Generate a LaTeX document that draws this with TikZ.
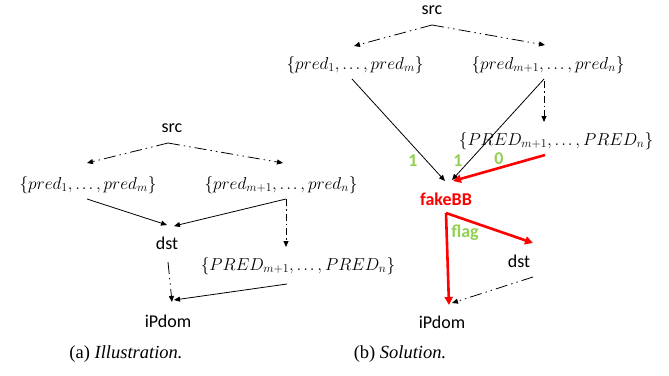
\documentclass[tikz,border=0pt]{standalone}
\usepackage{fontspec}
\setsansfont{Carlito}
\setmainfont{Liberation Serif}
\usetikzlibrary{arrows.meta,calc}
\definecolor{lgreen}{HTML}{92D050}
\newcommand{\tdots}{\mathinner{.\mkern2mu.\mkern2mu.}}
\begin{document}
\begin{tikzpicture}[x=1pt,y=-1pt,
  lbl/.style={font=\sffamily\fontsize{18}{20}\selectfont, inner sep=0pt},
  setn/.style={font=\fontsize{18.5}{22}\selectfont, inner sep=0pt},
  bign/.style={font=\fontsize{17.5}{20}\selectfont, inner sep=0pt},
  num/.style={font=\sffamily\bfseries\fontsize{18}{20}\selectfont, text=lgreen, inner sep=0pt},
  capt/.style={font=\fontsize{18.5}{22}\selectfont, inner sep=0pt},
  conn/.style={line width=0.8pt, -{Triangle[length=6pt,width=5pt]}},
  hot/.style={line width=2.6pt, red, -{Triangle[length=8pt,width=8pt]}},
  ddd/.style={dash pattern=on 12pt off 4pt on 1.5pt off 4pt on 1.5pt off 4pt},
  dd/.style={dash pattern=on 7pt off 3pt on 1.5pt off 3pt}]
\useasboundingbox (0,0) rectangle (669,375);
% ---------- left panel ----------
\node[lbl] (srcA) at (172,128) {src};
\node[setn] (pa1) at (88,185) {$\{pred_1,\tdots,pred_m\}$};
\node[setn] (pa2) at (281,185) {$\{pred_{m+1},\tdots,pred_n\}$};
\node[lbl] (dstA) at (167,243) {dst};
\node[bign] (PA) at (298,266) {$\{PRED_{m+1},\tdots,PRED_n\}$};
\node[lbl] (ipA) at (168,321) {iPdom};
\draw[conn,ddd] ($(srcA)+(-4,15)$) -- ($(pa1)+(-1,-22)$);
\draw[conn,ddd] ($(srcA)+(-4,15)$) -- ($(pa2)+(2,-22)$);
\draw[conn] ($(pa1)+(-1,14)$) -- ($(dstA)+(0,-18)$);
\draw[conn] ($(pa2)+(5,14)$) -- ($(dstA)+(7,-17)$);
\draw[conn,dd] ($(pa2)+(5,14)$) -- ($(PA)+(-12,-19)$);
\draw[conn,ddd] ($(dstA)+(1,19)$) -- ($(ipA)+(4,-19)$);
\draw[conn] ($(PA)+(-11,18)$) -- ($(ipA)+(6,-21)$);
% ---------- right panel ----------
\node[lbl] (srcB) at (432,10) {src};
\node[setn] (pb1) at (355,65) {$\{pred_1,\tdots,pred_m\}$};
\node[setn] (pb2) at (548,65) {$\{pred_{m+1},\tdots,pred_n\}$};
\node[bign] (PB) at (556,141) {$\{PRED_{m+1},\tdots,PRED_n\}$};
\node[lbl, font=\sffamily\bfseries\fontsize{18}{20}\selectfont, text=red] (fake) at (446,199) {fakeBB};
\node[lbl] (dstB) at (519,261) {dst};
\node[lbl] (ipB) at (442,322) {iPdom};
\draw[conn,ddd] ($(srcB)+(0,15)$) -- ($(pb1)+(-1,-19)$);
\draw[conn,ddd] ($(srcB)+(0,15)$) -- ($(pb2)+(-3,-20)$);
\draw[conn] ($(pb1)+(-3,14)$) -- ($(fake)+(-1,-18)$);
\draw[conn] ($(pb2)+(-4,14)$) -- ($(fake)+(6,-19)$);
\draw[conn,dd] ($(pb2)+(-4,16)$) -- ($(PB)+(-12,-19)$);
\draw[hot] ($(PB)+(-11,14)$) -- ($(fake)+(7,-18)$);
\draw[hot] ($(fake)+(0,14)$) -- ($(dstB)+(14,-18)$);
\draw[hot] ($(fake)+(0,14)$) -- ($(ipB)+(7,-17)$);
\draw[conn,ddd] ($(dstB)+(14,16)$) -- ($(ipB)+(10,-19)$);
\node[num] (l1) at (413,161) {1};
\node[num] (l2) at (458,161) {1};
\node[num] (l0) at (499,159) {0};
\node[num] (lf) at (465,233) {flag};
% ---------- captions ----------
\node[capt] (ca) at (126,354) {(a) \textit{Illustration.}};
\node[capt] (cb) at (400,354) {(b) \textit{Solution.}};
\end{tikzpicture}
\end{document}
